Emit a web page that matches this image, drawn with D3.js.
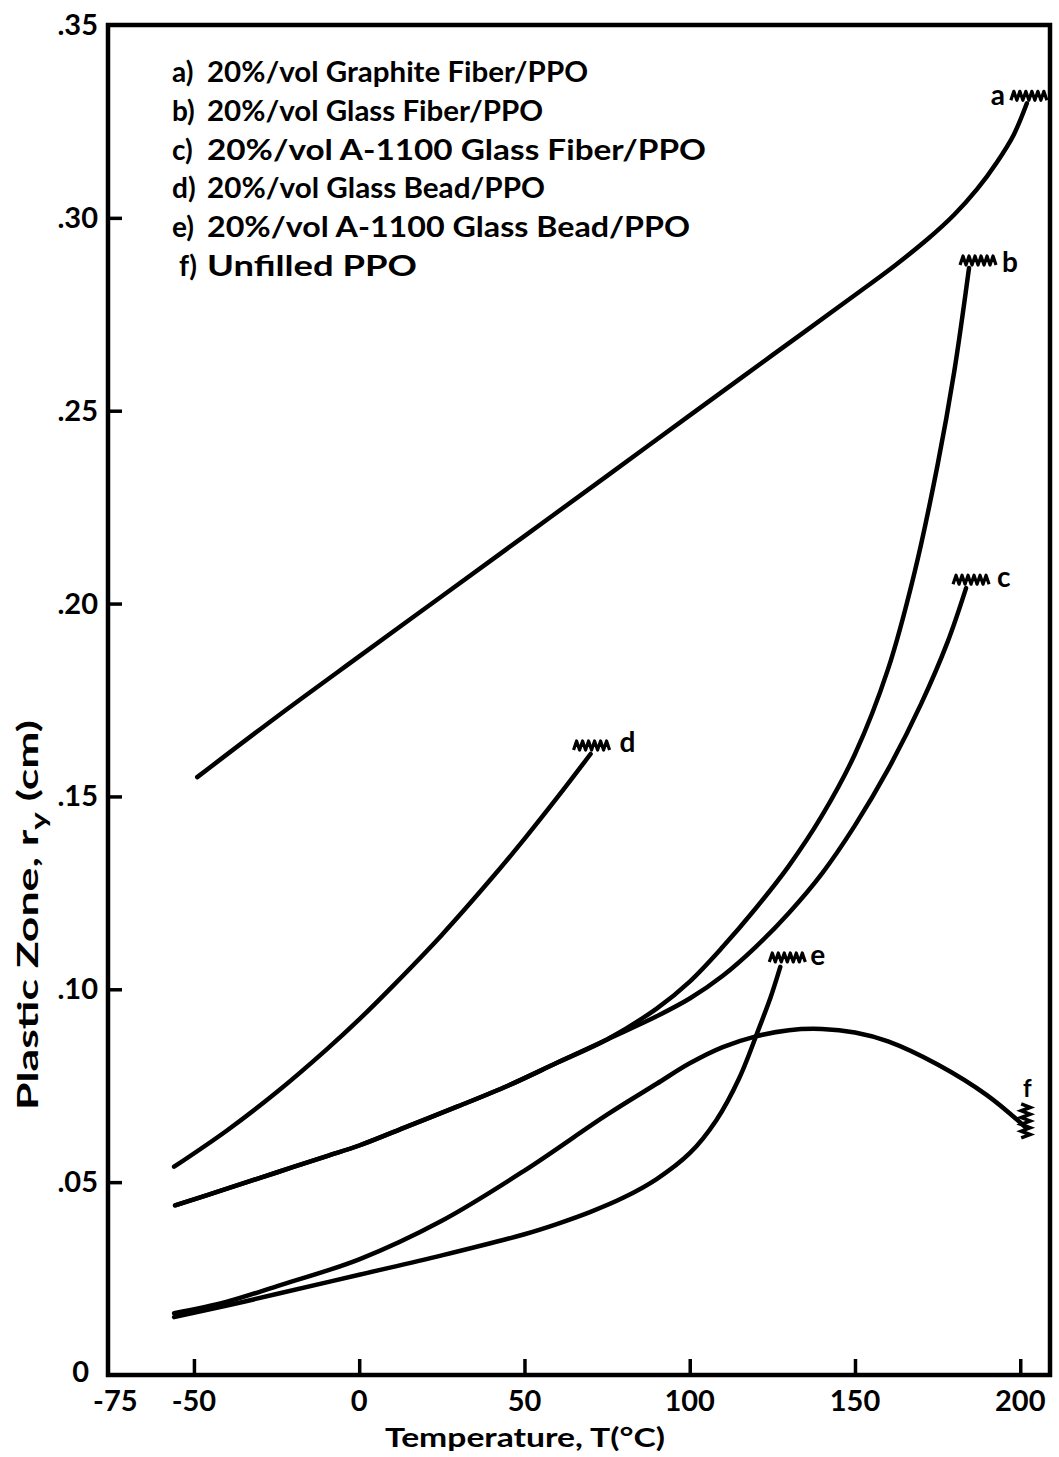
<!DOCTYPE html>
<html><head><meta charset="utf-8">
<script src="https://cdn.jsdelivr.net/npm/d3@7"></script>
<style>body{margin:0;background:#fff}svg{display:block}</style>
</head><body>
<svg id="chart" width="1059" height="1457"></svg>
<script>
// ---- data ----
const xTickValues = [-75, -50, 0, 50, 100, 150, 200];
const xTickLabels = ["-75", "-50", "0", "50", "100", "150", "200"];
const yTickValues = [0, 0.05, 0.10, 0.15, 0.20, 0.25, 0.30, 0.35];
const yTickLabels = ["0", ".05", ".10", ".15", ".20", ".25", ".30", ".35"];

const seriesKeys = ["a", "b", "c", "d", "e", "f"];
const legendLabels = [
  "20%/vol Graphite Fiber/PPO",
  "20%/vol Glass Fiber/PPO",
  "20%/vol A-1100 Glass Fiber/PPO",
  "20%/vol Glass Bead/PPO",
  "20%/vol A-1100 Glass Bead/PPO",
  "Unfilled PPO"
];

const aTemp = [-49, -25, 0, 25, 50, 75, 100, 125, 150, 162, 172, 180, 187, 193, 198, 202];
const aZone = [0.155, 0.1706, 0.1863, 0.2019, 0.2175, 0.2331, 0.2488, 0.2644, 0.2800, 0.2876, 0.2945, 0.3008, 0.3075, 0.3145, 0.3215, 0.3297];

const bTemp = [-55.7, -40, -25, -10, 0, 15, 30, 45, 60, 75, 90, 100, 110, 120, 130, 140, 150, 160, 168, 175, 180, 184.5];
const bZone = [0.044, 0.0483, 0.0525, 0.0567, 0.0595, 0.0646, 0.0697, 0.075, 0.081, 0.087, 0.095, 0.102, 0.111, 0.121, 0.132, 0.145, 0.161, 0.183, 0.208, 0.236, 0.260, 0.287];

const cTemp = [-55.7, -40, -25, -10, 0, 15, 30, 45, 60, 75, 90, 100, 110, 120, 130, 140, 150, 160, 170, 178, 183.6];
const cZone = [0.044, 0.0483, 0.0525, 0.0567, 0.0595, 0.0646, 0.0697, 0.075, 0.081, 0.087, 0.0930, 0.0976, 0.1035, 0.111, 0.1198, 0.130, 0.1425, 0.157, 0.174, 0.190, 0.204];

const dTemp = [-56, -40, -25, -10, 0, 10, 25, 40, 50, 60, 70];
const dZone = [0.054, 0.0634, 0.0733, 0.0843, 0.0922, 0.1007, 0.1141, 0.1287, 0.1390, 0.1498, 0.161];

const eTemp = [-56, -40, -25, 0, 25, 50, 60, 70, 80, 90, 100, 108, 115, 121, 124.5, 127.4];
const eZone = [0.015, 0.018, 0.021, 0.026, 0.031, 0.0365, 0.0392, 0.0423, 0.0460, 0.0508, 0.0575, 0.066, 0.077, 0.090, 0.098, 0.1058];

const fTemp = [-56, -40, -25, 0, 25, 50, 75, 90, 100, 110, 120, 130, 140, 150, 160, 175, 190, 201.5];
const fZone = [0.016, 0.019, 0.023, 0.030, 0.040, 0.053, 0.0675, 0.0755, 0.0808, 0.0850, 0.0878, 0.0894, 0.0897, 0.0888, 0.0865, 0.0805, 0.0725, 0.0643];

const seriesTemp = {a: aTemp, b: bTemp, c: cTemp, d: dTemp, e: eTemp, f: fTemp};
const seriesZone = {a: aZone, b: bZone, c: cZone, d: dZone, e: eZone, f: fZone};

// ---- layout ----
const svg = d3.select("#chart");
const pLeft = 108, pRight = 1050, pTop = 25, pBottom = 1375;
const x = d3.scaleLinear().domain([-76, 209]).range([pLeft, pRight]);
const y = d3.scaleLinear().domain([0, 0.35]).range([pBottom, pTop]);
const FONT = "Lato, 'Open Sans', 'DejaVu Sans', sans-serif";

// frame
svg.append("rect").attr("x", pLeft).attr("y", pTop)
  .attr("width", pRight - pLeft).attr("height", pBottom - pTop)
  .attr("fill", "none").attr("stroke", "#000").attr("stroke-width", 4.5);

// x axis (ticks inward)
const xAxis = d3.axisTop(x).tickValues(xTickValues.filter(v => v > -75))
  .tickSize(16).tickFormat("");
svg.append("g").attr("transform", `translate(0,${pBottom})`).call(xAxis)
  .call(g => g.select(".domain").remove())
  .call(g => g.selectAll("line").attr("stroke", "#000").attr("stroke-width", 3.5));
svg.append("g").selectAll("text").data(xTickValues).join("text")
  .attr("x", d => x(d) + (d === -75 ? 4 : 0)).attr("y", pBottom + 36)
  .attr("text-anchor", "middle")
  .attr("font-family", FONT).attr("font-weight", 700).attr("font-size", 29)
  .text((d, i) => xTickLabels[i]);

// y axis (ticks inward)
const yAxis = d3.axisRight(y).tickValues(yTickValues.filter(v => v > 0 && v < 0.35))
  .tickSize(14).tickFormat("");
svg.append("g").attr("transform", `translate(${pLeft},0)`).call(yAxis)
  .call(g => g.select(".domain").remove())
  .call(g => g.selectAll("line").attr("stroke", "#000").attr("stroke-width", 3.5));
svg.append("g").selectAll("text").data(yTickValues).join("text")
  .attr("x", d => d === 0 ? pLeft - 19 : pLeft - 10)
  .attr("y", d => d === 0 ? y(d) + 7 : y(d) + 10)
  .attr("text-anchor", "end")
  .attr("font-family", FONT).attr("font-weight", 700).attr("font-size", 29)
  .text((d, i) => yTickLabels[i]);

// axis titles
svg.append("text").attr("x", 525).attr("y", 1447).attr("text-anchor", "middle")
  .attr("font-family", FONT).attr("font-weight", 700).attr("font-size", 27)
  .attr("textLength", 280).attr("lengthAdjust", "spacingAndGlyphs")
  .text("Temperature, T(°C)");

const yt = svg.append("text")
  .attr("transform", "translate(38,915) rotate(-90)")
  .attr("text-anchor", "middle")
  .attr("font-family", FONT).attr("font-weight", 700).attr("font-size", 28);
yt.append("tspan").text("Plastic Zone, r");
yt.append("tspan").attr("font-size", 21).attr("dy", 8).text("y");
yt.append("tspan").attr("dy", -8).text(" (cm)");
(function () {
  const w = yt.node().getComputedTextLength();
  const s = 390 / w;
  yt.attr("transform", `translate(38,915) rotate(-90) scale(${s},1)`);
})();

// curves
const line = d3.line().curve(d3.curveCatmullRom.alpha(0.5))
  .x(p => x(p[0])).y(p => y(p[1]));
seriesKeys.forEach(k => {
  const pts = seriesTemp[k].map((t, i) => [t, seriesZone[k][i]]);
  svg.append("path").attr("d", line(pts))
    .attr("fill", "none").attr("stroke", "#000").attr("stroke-width", 4.5)
    .attr("stroke-linecap", "round").attr("stroke-linejoin", "round");
});

// break marks + curve letters
function zig(cx, cy, w, h, n) {
  const p = d3.path();
  const step = w / (n * 2);
  p.moveTo(cx - w / 2, cy);
  for (let i = 0; i < n; i++) {
    p.lineTo(cx - w / 2 + step * (2 * i + 1), cy - h);
    p.lineTo(cx - w / 2 + step * (2 * i + 2), cy);
  }
  return p.toString();
}
function vzig(cx, cy, hgt, w, n) {
  const p = d3.path();
  const step = hgt / (n * 2);
  p.moveTo(cx, cy - hgt / 2);
  for (let i = 0; i < n; i++) {
    p.lineTo(cx + w, cy - hgt / 2 + step * (2 * i + 1));
    p.lineTo(cx, cy - hgt / 2 + step * (2 * i + 2));
  }
  return p.toString();
}
const endMarks = {
  a: {dx: 2, dy: -3, lx: -22, ly: 2, anchor: "end"},
  b: {dx: 9, dy: -3, lx: 33, ly: 4, anchor: "start"},
  c: {dx: 5, dy: -4, lx: 31, ly: -1, anchor: "start"},
  d: {dx: 1, dy: -4, lx: 29, ly: -2, anchor: "start"},
  e: {dx: 7, dy: -5, lx: 30, ly: -2, anchor: "start"}
};
const labelG = svg.append("g");
seriesKeys.forEach(k => {
  const T = seriesTemp[k], V = seriesZone[k];
  const ex = x(T[T.length - 1]), ey = y(V[V.length - 1]);
  if (k === "f") {
    labelG.append("path").attr("d", vzig(ex - 4, ey - 6, 34, 9, 5))
      .attr("fill", "none").attr("stroke", "#000").attr("stroke-width", 3.5);
    labelG.append("text").attr("x", ex + 2).attr("y", ey - 30)
      .attr("text-anchor", "middle")
      .attr("font-family", FONT).attr("font-weight", 700).attr("font-size", 24).text(k);
    return;
  }
  const m = endMarks[k];
  labelG.append("path").attr("d", zig(ex + m.dx, ey + m.dy, 36, 9, 6))
    .attr("fill", "none").attr("stroke", "#000").attr("stroke-width", 3.2)
    .attr("stroke-linejoin", "round");
  labelG.append("text").attr("x", ex + m.lx).attr("y", ey + m.ly)
    .attr("text-anchor", m.anchor)
    .attr("font-family", FONT).attr("font-weight", 700).attr("font-size", 28).text(k);
});

// legend (text widths matched to the reference)
const legendWidths = [381, 336, 499, 338, 483, 210];
const legendG = svg.append("g");
seriesKeys.forEach((k, i) => {
  const yy = 82 + i * 38.8;
  legendG.append("text").attr("x", k === "f" ? 179 : 172).attr("y", yy)
    .attr("font-family", FONT).attr("font-weight", 700).attr("font-size", 28)
    .text(k + ")");
  legendG.append("text").attr("x", 207).attr("y", yy)
    .attr("font-family", FONT).attr("font-weight", 700).attr("font-size", 28)
    .attr("textLength", legendWidths[i]).attr("lengthAdjust", "spacingAndGlyphs")
    .text(legendLabels[i]);
});
</script>
</body></html>
